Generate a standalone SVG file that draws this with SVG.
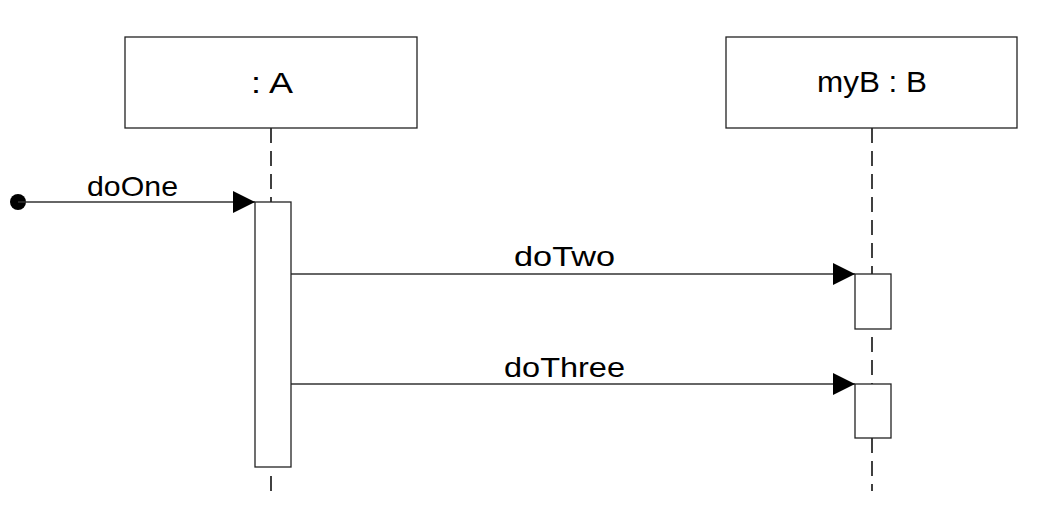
<svg xmlns="http://www.w3.org/2000/svg" width="1037" height="511" viewBox="0 0 1037 511">
<style>
.box{fill:#fff;stroke:#222;stroke-width:1.3}
.life{stroke:#111;stroke-width:1.6;stroke-dasharray:15 8;fill:none}
.msg{stroke:#333;stroke-width:1.3;fill:none}
.lbl{font-family:"Liberation Sans",Arial,sans-serif;fill:#000}
.node{font-size:30px;text-anchor:middle}
.m{font-size:28px}
</style>
<defs>
<marker id="arr" markerWidth="22" markerHeight="22" refX="22" refY="11" orient="auto" markerUnits="userSpaceOnUse">
<path d="M0,0 L22,11 L0,22 Z" fill="#000"/>
</marker>
</defs>
<rect width="1037" height="511" fill="#fff"/>
<g id="connectors">
<line class="life" x1="271" y1="128" x2="271" y2="202"/>
<line class="life" x1="271" y1="476" x2="271" y2="491"/>
<line class="life" x1="872" y1="128" x2="872" y2="274"/>
<line class="life" x1="872" y1="337" x2="872" y2="384"/>
<line class="life" x1="872" y1="438" x2="872" y2="491"/>
<g id="msg-doOne">
<circle cx="18" cy="202" r="8" fill="#000"/>
<line class="msg" x1="18" y1="202" x2="255" y2="202" marker-end="url(#arr)"/>
<text class="lbl m" x="87" y="196" textLength="91" lengthAdjust="spacingAndGlyphs">doOne</text>
</g>
<g id="msg-doTwo">
<line class="msg" x1="291" y1="274" x2="855" y2="274" marker-end="url(#arr)"/>
<text class="lbl m" x="514" y="266" textLength="101" lengthAdjust="spacingAndGlyphs">doTwo</text>
</g>
<g id="msg-doThree">
<line class="msg" x1="291" y1="384" x2="855" y2="384" marker-end="url(#arr)"/>
<text class="lbl m" x="504" y="377" textLength="121" lengthAdjust="spacingAndGlyphs">doThree</text>
</g>
</g>
<g id="node-A">
<rect class="box" x="125" y="37" width="292" height="91"/>
<text class="lbl node" x="272" y="93" textLength="42" lengthAdjust="spacingAndGlyphs">: A</text>
</g>
<g id="node-B">
<rect class="box" x="726" y="37" width="291" height="91"/>
<text class="lbl node" x="872" y="92" textLength="110" lengthAdjust="spacingAndGlyphs">myB : B</text>
</g>
<g id="activation-A">
<rect class="box" x="255" y="202" width="36" height="265"/>
</g>
<g id="activation-B1">
<rect class="box" x="855" y="274" width="36" height="55"/>
</g>
<g id="activation-B2">
<rect class="box" x="855" y="384" width="36" height="54"/>
</g>
</svg>
